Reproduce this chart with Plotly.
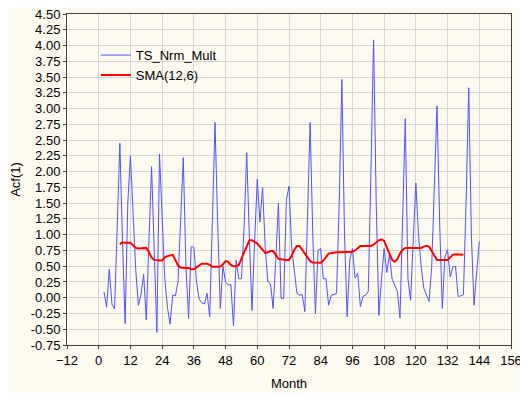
import plotly.graph_objects as go

# Months for the lagged series (lag 1 -> starts at month 2)
months = list(range(2, 145))
ts_nrm_mult = [
    0.09, -0.15, 0.45, -0.10, -0.18, 1.00, 2.45, 0.90, -0.41, 1.50,   # 2-11
    2.25, 1.35, 0.45, -0.12, 0.05, 0.37, -0.35, 0.90, 2.08, 0.75,     # 12-21
    -0.55, 2.28, 1.30, 0.30, -0.15, -0.42, 0.04, 0.03, 0.25, 1.20,    # 22-31
    2.22, 0.50, -0.33, 0.81, 0.80, 0.25, -0.02, -0.08, -0.10, 0.07,   # 32-41
    -0.30, 1.20, 2.78, 1.20, -0.17, 0.50, 0.25, 0.20, 0.21, -0.45,    # 42-51
    0.60, 0.30, 0.30, 1.10, 2.30, 0.95, -0.20, 0.90, 1.88, 1.20,      # 52-61
    1.75, 0.80, 0.25, 0.22, -0.17, 0.60, 1.50, -0.01, -0.01, 1.55,    # 62-71
    1.77, 0.80, 0.38, 0.07, 0.04, 0.05, -0.22, 1.50, 2.78, 1.00,      # 72-81
    -0.25, 0.75, 0.78, 0.30, 0.30, -0.12, 0.04, 0.05, 0.07, 1.50,     # 82-91
    3.46, 1.00, -0.30, 0.60, 0.78, 0.31, 0.39, -0.14, 0.02, 0.04,     # 92-101
    0.10, 2.00, 4.09, 1.50, -0.28, 0.30, 0.78, 0.40, 0.68, 0.30,      # 102-111
    0.20, 0.10, -0.32, 1.30, 2.84, 0.30, -0.04, 0.90, 1.82, 1.00,     # 112-121
    0.50, 0.15, 0.04, -0.06, 0.50, 1.80, 3.04, 1.20, -0.17, 0.65,     # 122-131
    0.76, 0.33, 0.49, 0.50, 0.02, 0.03, 0.05, 1.50, 3.33, 1.00,       # 132-141
    -0.12, 0.39, 0.89,                                                # 142-144
]

sma_months = list(range(8, 139))
sma_12_6 = [
    0.85, 0.88, 0.87, 0.87, 0.87, 0.83, 0.79, 0.78, 0.78, 0.79,       # 8-17
    0.79, 0.72, 0.64, 0.60, 0.59, 0.59, 0.59, 0.64, 0.66, 0.67,       # 18-27
    0.68, 0.60, 0.51, 0.48, 0.47, 0.47, 0.47, 0.45, 0.45, 0.48,       # 28-37
    0.52, 0.54, 0.54, 0.54, 0.52, 0.49, 0.49, 0.49, 0.49, 0.53,       # 38-47
    0.58, 0.57, 0.52, 0.50, 0.50, 0.52, 0.62, 0.72, 0.82, 0.91,       # 48-57
    0.91, 0.89, 0.86, 0.81, 0.75, 0.71, 0.72, 0.74, 0.74, 0.68,       # 58-67
    0.62, 0.61, 0.60, 0.60, 0.60, 0.66, 0.76, 0.82, 0.82, 0.76,       # 68-77
    0.68, 0.62, 0.58, 0.56, 0.555, 0.555, 0.555, 0.59, 0.65, 0.70,    # 78-87
    0.71, 0.72, 0.72, 0.72, 0.72, 0.72, 0.72, 0.73, 0.73, 0.75,       # 88-97
    0.79, 0.82, 0.82, 0.82, 0.82, 0.82, 0.84, 0.88, 0.91, 0.925,      # 98-107
    0.90, 0.80, 0.70, 0.60, 0.57, 0.61, 0.70, 0.76, 0.79, 0.79,       # 108-117
    0.78, 0.78, 0.78, 0.78, 0.79, 0.81, 0.825, 0.81, 0.74, 0.66,      # 118-127
    0.60, 0.60, 0.60, 0.60, 0.60, 0.64, 0.68, 0.69, 0.69, 0.68,       # 128-137
    0.68,                                                             # 138
]

x_ticks = list(range(-12, 157, 12))
y_ticks = [round(-0.75 + 0.25 * i, 2) for i in range(22)]
y_tick_text = [f"{v:.2f}" for v in y_ticks]

fig = go.Figure()
fig.add_trace(go.Scatter(
    x=months, y=ts_nrm_mult, mode="lines", name="TS_Nrm_Mult",
    line=dict(color="#5252ff", width=1),
))
fig.add_trace(go.Scatter(
    x=sma_months, y=sma_12_6, mode="lines", name="SMA(12,6)",
    line=dict(color="#ff0000", width=2),
))

# The page body has an 8px margin, so the figure is sized to fit inside it.
W, H = 520, 389
L, R, T, B = 59, 17, 6, 52
pw, ph = W - L - R, H - T - B

fig.add_shape(
    type="rect", xref="paper", yref="paper", layer="below",
    x0=(-5 - L) / pw, x1=(515 - L) / pw,
    y0=(H - B - 385) / ph, y1=(H - B + 2) / ph,
    fillcolor="#fcf9ee", line=dict(width=0),
)

fig.update_layout(
    width=W, height=H, autosize=False,
    margin=dict(l=L, r=R, t=T, b=B),
    paper_bgcolor="white", plot_bgcolor="white",
    font=dict(family="Liberation Sans, Arial, sans-serif", size=13, color="black"),
    showlegend=True,
    legend=dict(
        x=0.065, y=0.921, xanchor="left", yanchor="top",
        bgcolor="rgba(0,0,0,0)", borderwidth=0,
        font=dict(size=13), tracegroupgap=0,
    ),
)
fig.update_xaxes(
    range=[-12, 156], tickmode="array", tickvals=x_ticks,
    showgrid=True, gridcolor="#d4d4d4", gridwidth=1,
    zeroline=False, showline=True, linecolor="#404040", linewidth=1, mirror=True,
    ticks="outside", ticklen=3, tickcolor="#404040", automargin=False,
    ticklabeloverflow="allow",
    title=dict(text="Month", font=dict(size=13), standoff=12),
    tickfont=dict(size=13),
)
fig.update_yaxes(
    range=[-0.75, 4.5], tickmode="array", tickvals=y_ticks, ticktext=y_tick_text,
    showgrid=True, gridcolor="#d4d4d4", gridwidth=1,
    zeroline=False, showline=True, linecolor="#404040", linewidth=1, mirror=True,
    ticks="outside", ticklen=3, tickcolor="#404040", automargin=False,
    ticklabeloverflow="allow",
    title=dict(text="Acf(1)", font=dict(size=13), standoff=10),
    tickfont=dict(size=13),
)

fig.write_html("out.html")
